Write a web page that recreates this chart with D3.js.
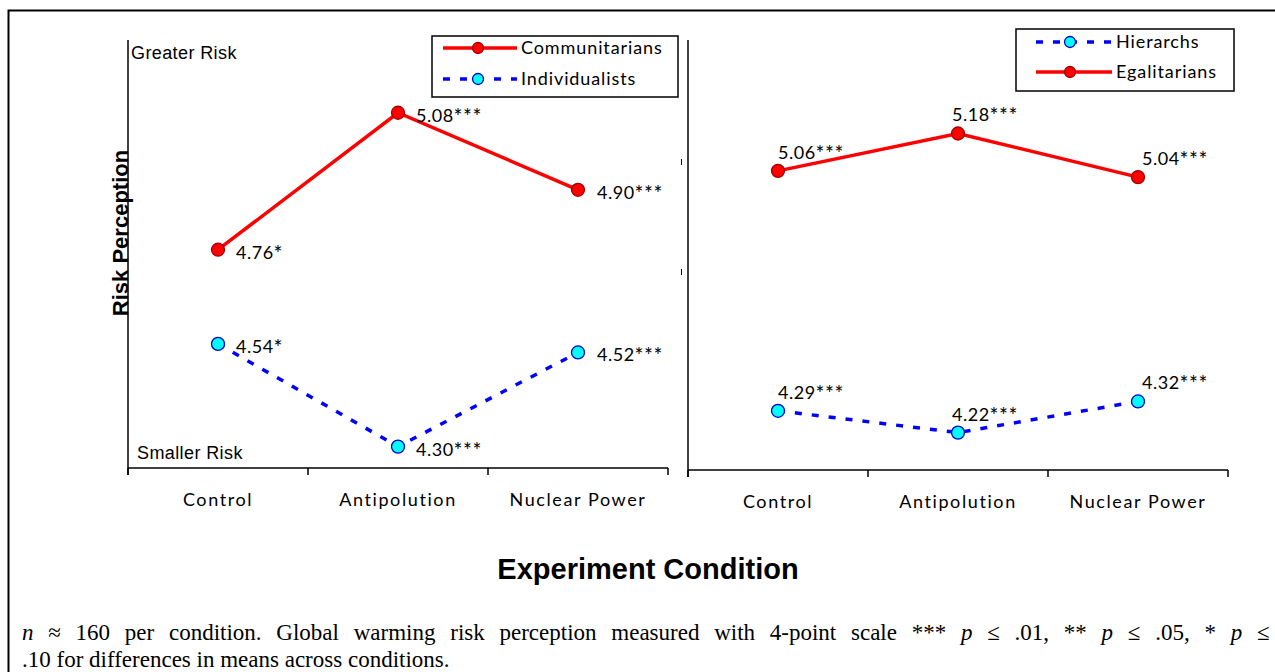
<!DOCTYPE html>
<html>
<head>
<meta charset="utf-8">
<script src="https://cdn.jsdelivr.net/npm/d3@7"></script>
<style>
  body { margin: 0; background: #fff; }
  svg { display: block; }
</style>
</head>
<body>
<svg id="chart" width="1275" height="672"></svg>
<script>
// data
const conditions = ["Control", "Antipolution", "Nuclear Power"];
const communitarians = [4.76, 5.08, 4.90];
const communitarianStars = ["*", "***", "***"];
const individualists = [4.54, 4.30, 4.52];
const individualistStars = ["*", "***", "***"];
const egalitarians = [5.06, 5.18, 5.04];
const egalitarianStars = ["***", "***", "***"];
const hierarchs = [4.29, 4.22, 4.32];
const hierarchStars = ["***", "***", "***"];

const svg = d3.select("#chart");

const RED = "#ff0000";
const BLUE = "#0000ff";
const calibri = "Lato, 'Open Sans', sans-serif";
const arial = "'Liberation Sans', Arial, sans-serif";

// outer frame (top + left only visible)
svg.append("path")
   .attr("d", "M8.5,672 L8.5,10.5 L1275,10.5")
   .attr("fill", "none").attr("stroke", "#000").attr("stroke-width", 2);

function panel(x0, x1, yTop, yBot, domain, seriesList, labelPos) {
    const x = d3.scaleBand().domain(conditions).range([x0, x1]);
    const y = d3.scaleLinear().domain(domain).range([yBot, yTop]);
    const g = svg.append("g");

    // x axis
    const xAxis = g.append("g")
       .attr("transform", `translate(0,${yBot})`)
       .call(d3.axisBottom(x).tickSize(0).tickPadding(25));
    xAxis.select(".domain").remove();
    xAxis.selectAll("text")
       .attr("font-family", calibri).attr("font-size", 18)
       .attr("letter-spacing", "1.6px").attr("fill", "#000");

    g.append("line")
       .attr("x1", x0).attr("x2", x1).attr("y1", yBot).attr("y2", yBot)
       .attr("stroke", "#000").attr("stroke-width", 1.5);
    const edges = conditions.map(c => x(c)).concat([x1]);
    g.selectAll(".tk").data(edges).enter().append("line")
       .attr("x1", d => d).attr("x2", d => d)
       .attr("y1", yBot).attr("y2", yBot + 7)
       .attr("stroke", "#000").attr("stroke-width", 1.5);

    // y axis
    g.append("line")
       .attr("x1", x0).attr("x2", x0).attr("y1", yTop).attr("y2", yBot + 7)
       .attr("stroke", "#000").attr("stroke-width", 1.5);

    const line = d3.line()
       .x((d, i) => x(conditions[i]) + x.bandwidth() / 2)
       .y(d => y(d));

    seriesList.forEach(s => {
        g.append("path")
           .datum(s.values)
           .attr("d", line)
           .attr("fill", "none")
           .attr("stroke", s.color)
           .attr("stroke-width", 3.5)
           .attr("stroke-dasharray", s.dashed ? "7,10" : null);

        g.selectAll(null).data(s.values).enter().append("circle")
           .attr("cx", (d, i) => x(conditions[i]) + x.bandwidth() / 2)
           .attr("cy", d => y(d))
           .attr("r", 6.5)
           .attr("fill", s.fill)
           .attr("stroke", s.stroke)
           .attr("stroke-width", 1.3);

        const t = g.selectAll(null).data(s.values).enter().append("text")
           .attr("x", (d, i) => x(conditions[i]) + x.bandwidth() / 2 + labelPos.dx[i])
           .attr("y", d => y(d) + labelPos.dy)
           .attr("dominant-baseline", "middle")
           .attr("font-family", calibri).attr("font-size", 18)
           .attr("letter-spacing", "0.5px")
           .attr("fill", "#000");
        t.append("tspan").text(d => d.toFixed(2));
        t.append("tspan").attr("font-size", 21).attr("dy", 2)
           .text((d, i) => s.stars[i]);
    });
    return { x, y, g };
}

// left panel
panel(128, 668, 40, 468, [4.25, 5.25], [
    { values: communitarians, stars: communitarianStars, color: RED, fill: "#ff0000", stroke: "#a00000", dashed: false },
    { values: individualists, stars: individualistStars, color: BLUE, fill: "#00ffff", stroke: "#0000cc", dashed: true }
], { dx: [18, 18, 19], dy: 4 });

// right panel
panel(688, 1228, 40, 470, [4.1, 5.48], [
    { values: egalitarians, stars: egalitarianStars, color: RED, fill: "#ff0000", stroke: "#a00000", dashed: false },
    { values: hierarchs, stars: hierarchStars, color: BLUE, fill: "#00ffff", stroke: "#0000cc", dashed: true }
], { dx: [0, -6, 4], dy: -17 });

// stray tick marks at right panel
svg.selectAll(".stray").data([162, 272]).enter().append("line")
   .attr("x1", 681.5).attr("x2", 681.5)
   .attr("y1", d => d - 3).attr("y2", d => d + 3)
   .attr("stroke", "#000").attr("stroke-width", 1);

// y-axis annotations
svg.append("text").attr("x", 131).attr("y", 54)
   .attr("dominant-baseline", "middle")
   .attr("font-family", arial).attr("font-size", 18).attr("letter-spacing", "0.4px")
   .text("Greater Risk");
svg.append("text").attr("x", 137).attr("y", 454)
   .attr("dominant-baseline", "middle")
   .attr("font-family", arial).attr("font-size", 18).attr("letter-spacing", "0.4px")
   .text("Smaller Risk");
svg.append("text")
   .attr("transform", "translate(128,233) rotate(-90)")
   .attr("text-anchor", "middle")
   .attr("font-family", arial)
   .attr("font-size", 22).attr("font-weight", "bold")
   .text("Risk Perception");

// x-axis title
svg.append("text").attr("x", 648).attr("y", 579)
   .attr("text-anchor", "middle")
   .attr("font-family", arial)
   .attr("font-size", 29).attr("font-weight", "bold")
   .text("Experiment Condition");

// legends
function legend(x, y, w, h, items, markerX, lineX0, lineX1, textX) {
    const g = svg.append("g");
    g.append("rect").attr("x", x).attr("y", y).attr("width", w).attr("height", h)
       .attr("fill", "#fff").attr("stroke", "#000").attr("stroke-width", 1.5);
    items.forEach(it => {
        g.append("line")
           .attr("x1", lineX0).attr("x2", lineX1).attr("y1", it.y).attr("y2", it.y)
           .attr("stroke", it.color).attr("stroke-width", 3.5)
           .attr("stroke-dasharray", it.dashed ? "7,10" : null);
        g.append("circle").attr("cx", markerX).attr("cy", it.y).attr("r", 5.5)
           .attr("fill", it.fill).attr("stroke", it.stroke).attr("stroke-width", 1.3);
        g.append("text").attr("x", textX).attr("y", it.y + 1)
           .attr("dominant-baseline", "middle")
           .attr("font-family", calibri).attr("font-size", 18)
           .attr("letter-spacing", "0.9px")
           .text(it.name);
    });
}
legend(432, 36, 246, 61, [
    { name: "Communitarians", y: 48, color: RED, fill: "#ff0000", stroke: "#a00000", dashed: false },
    { name: "Individualists", y: 79, color: BLUE, fill: "#00ffff", stroke: "#0000cc", dashed: true }
], 478, 443, 517, 521);
legend(1016, 29, 218, 62, [
    { name: "Hierarchs", y: 42, color: BLUE, fill: "#00ffff", stroke: "#0000cc", dashed: true },
    { name: "Egalitarians", y: 72, color: RED, fill: "#ff0000", stroke: "#a00000", dashed: false }
], 1070, 1036, 1112, 1116);

// footnote (first line justified in the original)
const note = svg.append("g")
   .attr("font-family", "'Liberation Serif', 'Times New Roman', serif")
   .attr("font-size", 23);
const l1 = note.append("text").attr("x", 22).attr("y", 640).attr("word-spacing", "9px");
l1.append("tspan").attr("font-style", "italic").text("n");
l1.append("tspan").text(" ≈ 160 per condition. Global warming risk perception measured with 4-point scale *** ");
l1.append("tspan").attr("font-style", "italic").text("p");
l1.append("tspan").text(" ≤ .01, ** ");
l1.append("tspan").attr("font-style", "italic").text("p");
l1.append("tspan").text(" ≤ .05, * ");
l1.append("tspan").attr("font-style", "italic").text("p");
l1.append("tspan").text(" ≤");
note.append("text").attr("x", 22).attr("y", 667)
   .text(".10 for differences in means across conditions.");
</script>
</body>
</html>
